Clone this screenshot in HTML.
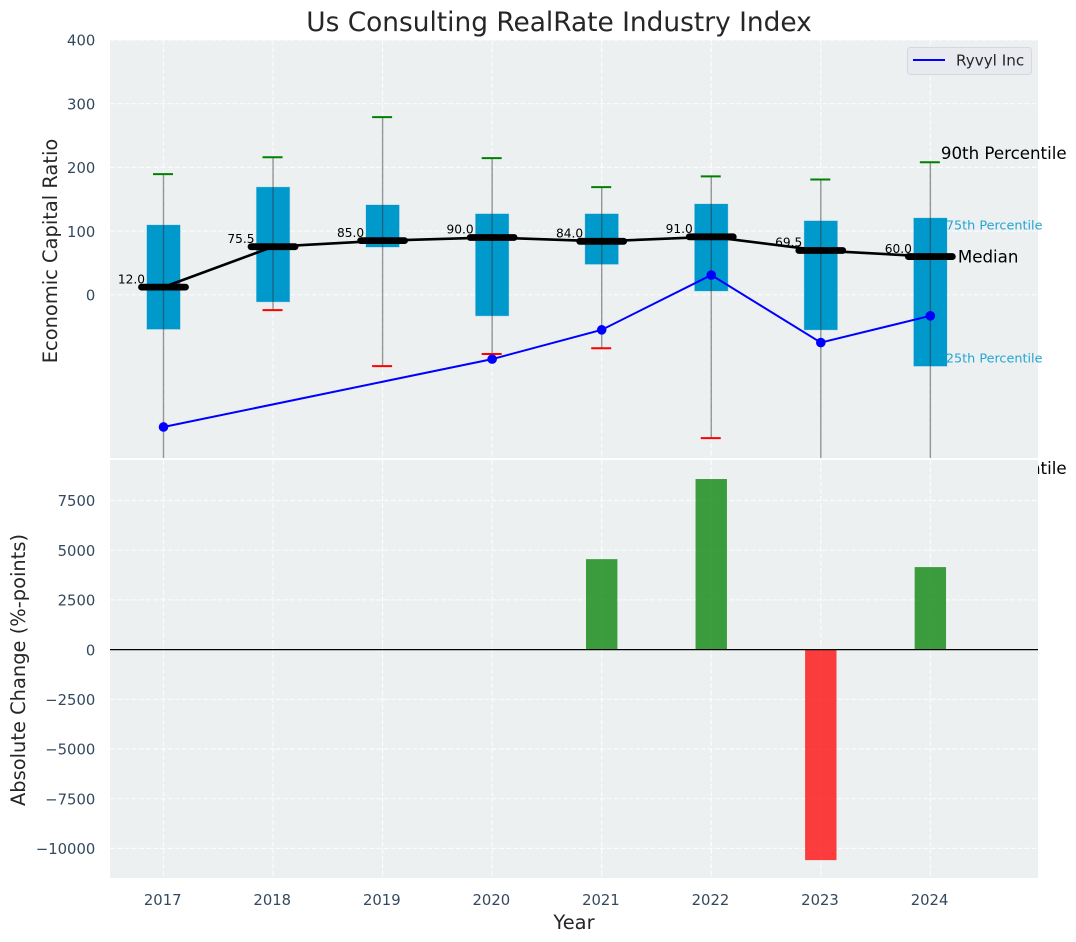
<!DOCTYPE html>
<html>
<head>
<meta charset="utf-8">
<title>Us Consulting RealRate Industry Index</title>
<style>
html,body{margin:0;padding:0;background:#fff;width:1076px;height:942px;overflow:hidden}
svg{display:block;font-family:"DejaVu Sans","Liberation Sans",sans-serif}
</style>
</head>
<body>
<svg id="chart" width="1076" height="942" viewBox="0 0 1076 942" xmlns="http://www.w3.org/2000/svg">
<defs>
<clipPath id="topClip"><rect x="110" y="40" width="928" height="418"/></clipPath>
<clipPath id="botClip"><rect x="110" y="460" width="928" height="418"/></clipPath>
</defs>
<text x="559" y="31" font-size="26.4" fill="#262626" text-anchor="middle">Us Consulting RealRate Industry Index</text>
<text transform="translate(57,251) rotate(-90)" font-size="19.44" fill="#262626" text-anchor="middle">Economic Capital Ratio</text>
<text transform="translate(25,670) rotate(-90)" font-size="19.44" fill="#262626" text-anchor="middle">Absolute Change (%-points)</text>
<text x="574" y="929" font-size="19.44" fill="#262626" text-anchor="middle">Year</text>
<g id="topAxes"></g>
<g id="botAxes"></g>
<g>
<rect x="907.5" y="47.5" width="124" height="27" rx="3" fill="#e8eaf0" stroke="#d5d8dc" stroke-width="1"/>
<line x1="913" y1="60" x2="945" y2="60" stroke="#0000ff" stroke-width="2"/>
<text x="956" y="65.5" font-size="15.2" fill="#262626">Ryvyl Inc</text>
</g>
</svg>
<script>
const years = [2017, 2018, 2019, 2020, 2021, 2022, 2023, 2024];
const p90 = [189.5, 216, 279, 214.5, 169, 186, 181, 208];
const p75 = [109.5, 169, 141, 127, 127, 142.5, 116, 120.5];
const medians = [12.0, 75.5, 85.0, 90.0, 84.0, 91.0, 69.5, 60.0];
const p25 = [-54, -11, 75, -33, 48, 6, -55, -112];
const p10 = [-330, -24, -112, -93, -84, -225, -340, -330];
const ryvyl = [-207.5, null, null, -101, -55, 31, -75, -33];
const absChange = [null, null, null, null, 4550, 8580, -10590, 4150];
const topTicks = [0, 100, 200, 300, 400];
const botTicks = [-10000, -7500, -5000, -2500, 0, 2500, 5000, 7500];

const NS = 'http://www.w3.org/2000/svg';
const xScale = function (yr) { return 163.5 + (yr - 2017) * 109.55; };
const yTop = function (v) { return 294.8 - v * 0.637; };
const yBot = function (v) { return 649.6 - v * 0.01988; };

function make(parent, tag, attrs, txt) {
  const el = document.createElementNS(NS, tag);
  for (const k in attrs) el.setAttribute(k, attrs[k]);
  if (txt !== undefined) el.textContent = txt;
  parent.appendChild(el);
  return el;
}
const gridStyle = { stroke: '#ffffff', 'stroke-width': 1.2, 'stroke-dasharray': '5 2.2', 'stroke-opacity': 0.8 };
const tickFont = 14.8;
const tickColor = '#34495e';
const topPanel = document.getElementById('topAxes');
const botPanel = document.getElementById('botAxes');

/* ---------- top panel ---------- */
const topBg = make(topPanel, 'rect', { x: 110, y: 40, width: 928, height: 418, fill: '#ecf0f1' });



topTicks.forEach(function (t) {
  const g = make(topPanel, 'line', Object.assign({ x1: 110, x2: 1038, y1: yTop(t), y2: yTop(t) }, gridStyle));
  
  
  const l = make(topPanel, 'text', { x: 95.3, y: yTop(t) + 5.7, 'font-size': tickFont, fill: tickColor, 'text-anchor': 'end' }, String(t));
  
  
});
years.forEach(function (yr) {
  const g = make(topPanel, 'line', Object.assign({ x1: xScale(yr), x2: xScale(yr), y1: 40, y2: 458 }, gridStyle));
  
  
});

const clipTop = make(topPanel, 'g', { 'clip-path': 'url(#topClip)' });



years.forEach(function (yr, i) {
  const x = xScale(yr);
  const box = make(clipTop, 'rect', {
    x: x - 16.6, y: yTop(p75[i]), width: 33.2, height: yTop(p25[i]) - yTop(p75[i]),
    fill: '#0099cc', stroke: '#0099cc', 'stroke-opacity': 0.25, 'stroke-width': 1
  });
  
  
});
years.forEach(function (yr, i) {
  const x = xScale(yr);
  const w = make(clipTop, 'line', { x1: x, x2: x, y1: yTop(p90[i]), y2: yTop(p10[i]), stroke: '#333333', 'stroke-opacity': 0.5, 'stroke-width': 1.4 });
  
  
  const c1 = make(clipTop, 'line', { x1: x - 10.5, x2: x + 9.5, y1: yTop(p90[i]), y2: yTop(p90[i]), stroke: '#008000', 'stroke-width': 2 });
  
  
  const c2 = make(clipTop, 'line', { x1: x - 10.5, x2: x + 9.5, y1: yTop(p10[i]), y2: yTop(p10[i]), stroke: '#ff0000', 'stroke-width': 2 });
  
  
});

const medPts = years.map(function (yr, i) { return xScale(yr) + ',' + yTop(medians[i]); }).join(' ');
const medLine = make(clipTop, 'polyline', { points: medPts, fill: 'none', stroke: '#000000', 'stroke-width': 2.6 });



years.forEach(function (yr, i) {
  const x = xScale(yr);
  const m = make(clipTop, 'line', { x1: x - 22, x2: x + 22, y1: yTop(medians[i]), y2: yTop(medians[i]), stroke: '#000000', 'stroke-width': 6.8, 'stroke-linecap': 'round' });
  
  
  const t = make(topPanel, 'text', { x: x - 18.5, y: yTop(medians[i]) - 3.8, 'font-size': 12.2, fill: '#000000', 'text-anchor': 'end' }, medians[i].toFixed(1));
  
  
});

const ryvylPts = [];
years.forEach(function (yr, i) {
  if (ryvyl[i] !== null) ryvylPts.push(xScale(yr) + ',' + yTop(ryvyl[i]));
});
const rLine = make(clipTop, 'polyline', { points: ryvylPts.join(' '), fill: 'none', stroke: '#0000ff', 'stroke-width': 2 });


years.forEach(function (yr, i) {
  if (ryvyl[i] === null) return;
  const d = make(clipTop, 'circle', { cx: xScale(yr), cy: yTop(ryvyl[i]), r: 4.8, fill: '#0000ff' });
  
  
});

const lastX = xScale(years[years.length - 1]);
const a90 = make(topPanel, 'text', { x: lastX + 10.5, y: 159, 'font-size': 16.67, fill: '#000000' }, '90th Percentile');


const a75 = make(topPanel, 'text', { x: lastX + 15.5, y: 229.5, 'font-size': 12.8, fill: '#0099cc', 'fill-opacity': 0.85 }, '75th Percentile');


const aMed = make(topPanel, 'text', { x: lastX + 27.5, y: 262.5, 'font-size': 16.67, fill: '#000000' }, 'Median');


const a25 = make(topPanel, 'text', { x: lastX + 15.5, y: 362.5, 'font-size': 12.8, fill: '#0099cc', 'fill-opacity': 0.85 }, '25th Percentile');


const a10 = make(topPanel, 'text', { x: lastX + 10.5, y: 474, 'font-size': 16.67, fill: '#000000' }, '10th Percentile');



/* ---------- bottom panel ---------- */
const botBg = make(botPanel, 'rect', { x: 110, y: 460, width: 928, height: 418, fill: '#ecf0f1' });



botTicks.forEach(function (t) {
  const g = make(botPanel, 'line', Object.assign({ x1: 110, x2: 1038, y1: yBot(t), y2: yBot(t) }, gridStyle));
  
  
  const label = t < 0 ? '\u2212' + Math.abs(t) : String(t);
  const l = make(botPanel, 'text', { x: 95.3, y: yBot(t) + 5.7, 'font-size': tickFont, fill: tickColor, 'text-anchor': 'end' }, label);
  
  
});
years.forEach(function (yr) {
  const x = xScale(yr);
  const g = make(botPanel, 'line', Object.assign({ x1: x, x2: x, y1: 460, y2: 878 }, gridStyle));
  
  
  const l = make(botPanel, 'text', { x: x - 0.8, y: 905, 'font-size': tickFont, fill: tickColor, 'text-anchor': 'middle' }, String(yr));
  
  
});

const clipBot = make(botPanel, 'g', { 'clip-path': 'url(#botClip)' });



years.forEach(function (yr, i) {
  const v = absChange[i];
  if (v === null) return;
  const y0 = yBot(0), y1 = yBot(v);
  const bar = make(clipBot, 'rect', {
    x: xScale(yr) - 15.7, width: 31.4, y: Math.min(y0, y1), height: Math.abs(y1 - y0),
    fill: v >= 0 ? '#008000' : '#ff0000', 'fill-opacity': 0.75
  });
  
  
});
const zero = make(clipBot, 'line', { x1: 110, x2: 1038, y1: yBot(0), y2: yBot(0), stroke: '#000000', 'stroke-width': 1.3 });


</script>
</body>
</html>
